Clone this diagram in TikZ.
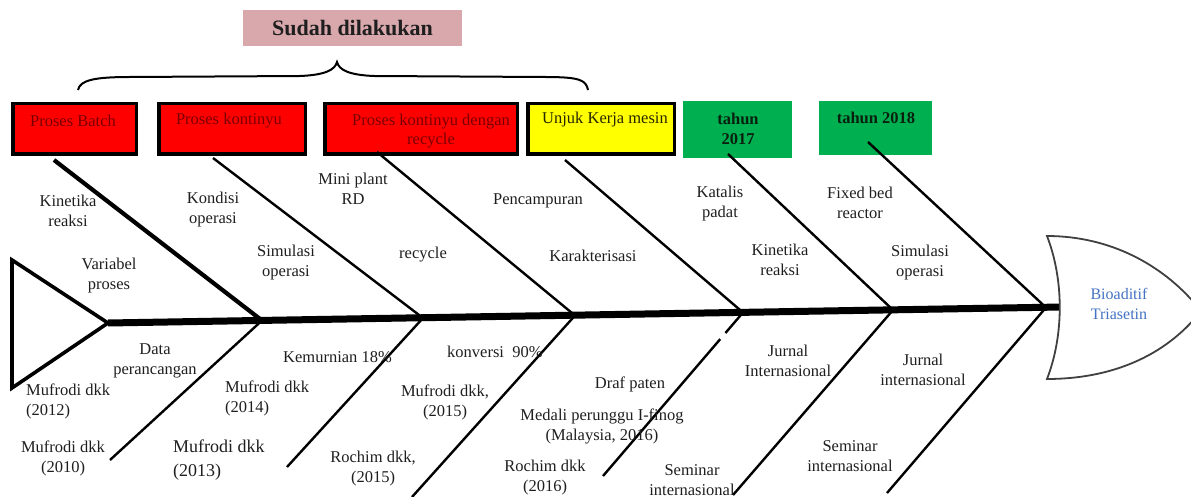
\documentclass[tikz,border=0pt]{standalone}
\usepackage{fontspec}
\setmainfont{Liberation Serif}
\definecolor{boxred}{HTML}{FF0000}
\definecolor{boxyellow}{HTML}{FFFF00}
\definecolor{boxgreen}{HTML}{00B050}
\definecolor{titlepink}{HTML}{D9A8AC}
\definecolor{txtcol}{HTML}{1E1E1E}
\definecolor{redtxt}{HTML}{7A0000}
\definecolor{olivetxt}{HTML}{262600}
\definecolor{greentxt}{HTML}{0A200F}
\definecolor{headblue}{HTML}{4472C4}
\definecolor{headline}{HTML}{404040}
\begin{document}
\begin{tikzpicture}[x=1pt,y=-1pt,
  txt/.style={inner sep=0pt, align=center, text=txtcol, font=\fontsize{16.5}{20}\selectfont},
  ltxt/.style={txt, align=left, anchor=west},
  bigtxt/.style={txt, align=left, anchor=west, font=\fontsize{18}{24}\selectfont},
  boxtxt/.style={inner sep=0pt, align=center, font=\fontsize{16.5}{19}\selectfont},
  boldtxt/.style={boxtxt, text=greentxt, font=\fontsize{16.5}{20}\selectfont\bfseries},
  framedbox/.style={draw=black, line width=3.5pt, minimum height=50.5pt, inner sep=0pt},
  redbox/.style={framedbox, fill=boxred},
  yellowbox/.style={framedbox, fill=boxyellow},
  greenbox/.style={fill=boxgreen, inner sep=0pt},
  bone/.style={draw=black, line width=2.4pt},
  thickbone/.style={draw=black, line width=4.2pt},
  spine/.style={draw=black, line width=7pt},
  tailline/.style={draw=black, line width=3.6pt},
  braceline/.style={draw=black, line width=2pt},
  headshape/.style={draw=headline, line width=1.8pt, fill=white}
]
\useasboundingbox (0,0) rectangle (1191,497);
\clip (0,0) rectangle (1191,497);

% title
\node[fill=titlepink, minimum width=219pt, minimum height=36pt, inner sep=0pt,
      font=\fontsize{22}{26}\selectfont\bfseries, text=txtcol] (title) at (352.5,28) {Sudah dilakukan};

% brace
\draw[braceline] (78,90) .. controls (80,80) and (95,77) .. (130,77) -- (300,76)
  .. controls (325,75) and (335,70) .. (337,62)
  .. controls (339,70) and (349,75) .. (374,76) -- (545,77)
  .. controls (580,77) and (586,80) .. (588,90);

% category boxes
\node[redbox, minimum width=123.5pt] (b1) at (74.5,129) {};
\node[redbox, minimum width=146.5pt] (b2) at (232,129) {};
\node[redbox, minimum width=192.5pt] (b3) at (421,129) {};
\node[yellowbox, minimum width=146.5pt] (b4) at (601,129) {};
\node[greenbox, minimum width=109pt, minimum height=57pt] (b5) at (737.5,129.5) {};
\node[greenbox, minimum width=113pt, minimum height=54pt] (b6) at (875.5,128) {};

\node[boxtxt, text=redtxt] (l1) at (73,121) {Proses Batch};
\node[boxtxt, text=redtxt] (l2) at (229,121) {Proses kontinyu};
\node[boxtxt, text=redtxt] (l3) at (431,131) {Proses kontinyu dengan\\recycle};
\node[boxtxt, text=olivetxt] (l4) at (605,120) {Unjuk Kerja mesin};
\node[boldtxt] (l5) at (738,129) {tahun\\2017};
\node[boldtxt] (l6) at (876,118) {tahun 2018};

% coordinates
\coordinate (tail) at (108,323);
\coordinate (neck) at (1062,307);
\coordinate (j1) at (262,320.5);
\coordinate (j2) at (423,318);
\coordinate (j3) at (575,315.5);
\coordinate (j4) at (743,312.5);
\coordinate (j5) at (893,310);
\coordinate (j6) at (1046,307.5);
\coordinate (t1) at (54,160);
\coordinate (t2) at (213,158);
\coordinate (t3) at (377,152);
\coordinate (t4) at (565,160);
\coordinate (t5) at (728,154);
\coordinate (t6) at (868,142);
\coordinate (e1) at (110,460);
\coordinate (e2) at (287,467);
\coordinate (e3) at (412,497);
\coordinate (e4) at (603,476);
\coordinate (e5) at (733,495);
\coordinate (e6) at (887,493);

% bones
\draw[thickbone] (t1) -- (j1);
\draw[bone] (t2) -- (j2);
\draw[bone] (t3) -- (j3);
\draw[bone] (t4) -- (j4);
\draw[bone] (t5) -- (j5);
\draw[bone] (t6) -- (j6);
\draw[bone] (j1) -- (e1);
\draw[bone] (j2) -- (e2);
\draw[bone] (j3) -- (e3);
\draw[bone, dash pattern=on 27pt off 8pt on 400pt] (j4) -- (e4);
\draw[bone] (j5) -- (e5);
\draw[bone] (j6) -- (e6);

% spine and tail
\draw[spine] (tail) -- (neck);
\draw[tailline] (12,260) -- (tail) -- (12,388) -- cycle;

% head
\draw[headshape] (1047,236) .. controls (1110,236) and (1165,265) .. (1201,311)
  .. controls (1165,357) and (1110,379) .. (1047,379)
  .. controls (1064,335) and (1064,280) .. cycle;
\node[txt, text=headblue, font=\fontsize{16}{20}\selectfont] (head) at (1119,304) {Bioaditif\\Triasetin};

% upper labels
\node[txt] (u1) at (68,211) {Kinetika\\reaksi};
\node[txt] (u2) at (109,276) {Variabel\\proses};
\node[txt] (u3) at (213,210) {Kondisi\\operasi};
\node[txt] (u4) at (286,263) {Simulasi\\operasi};
\node[txt] (u5) at (353,189) {Mini plant\\RD};
\node[txt] (u6) at (423,255) {recycle};
\node[txt] (u7) at (538,201) {Pencampuran};
\node[txt] (u8) at (593,256) {Karakterisasi};
\node[txt] (u9) at (720,204) {Katalis\\padat};
\node[txt] (u10) at (780,260) {Kinetika\\reaksi};
\node[txt] (u11) at (860,203) {Fixed bed\\reactor};
\node[txt] (u12) at (920,263) {Simulasi\\operasi};

% lower labels
\node[txt] (d1) at (155,361) {Data\\perancangan};
\node[ltxt] (d2) at (26,401) {Mufrodi dkk\\(2012)};
\node[txt] (d3) at (63,458) {Mufrodi dkk\\(2010)};
\node[ltxt] (d4) at (283,357) {Kemurnian 18\%};
\node[ltxt] (d5) at (225,398) {Mufrodi dkk\\(2014)};
\node[bigtxt] (d6) at (173,460) {Mufrodi dkk\\(2013)};
\node[txt] (d7) at (373,469) {Rochim dkk,\\(2015)};
\node[ltxt] (d8) at (447,352) {konversi\ \ 90\%};
\node[txt] (d9) at (445,402) {Mufrodi dkk,\\(2015)};
\node[txt] (d10) at (630,384) {Draf paten};
\node[txt] (d11) at (602,426) {Medali perunggu I-finog\\(Malaysia, 2016)};
\node[txt] (d12) at (545,478) {Rochim dkk\\(2016)};
\node[txt] (d13) at (692,480) {Seminar\\internasional};
\node[txt] (d14) at (788,361) {Jurnal\\Internasional};
\node[txt] (d15) at (923,370) {Jurnal\\internasional};
\node[txt] (d16) at (850,456) {Seminar\\internasional};
\end{tikzpicture}
\end{document}
